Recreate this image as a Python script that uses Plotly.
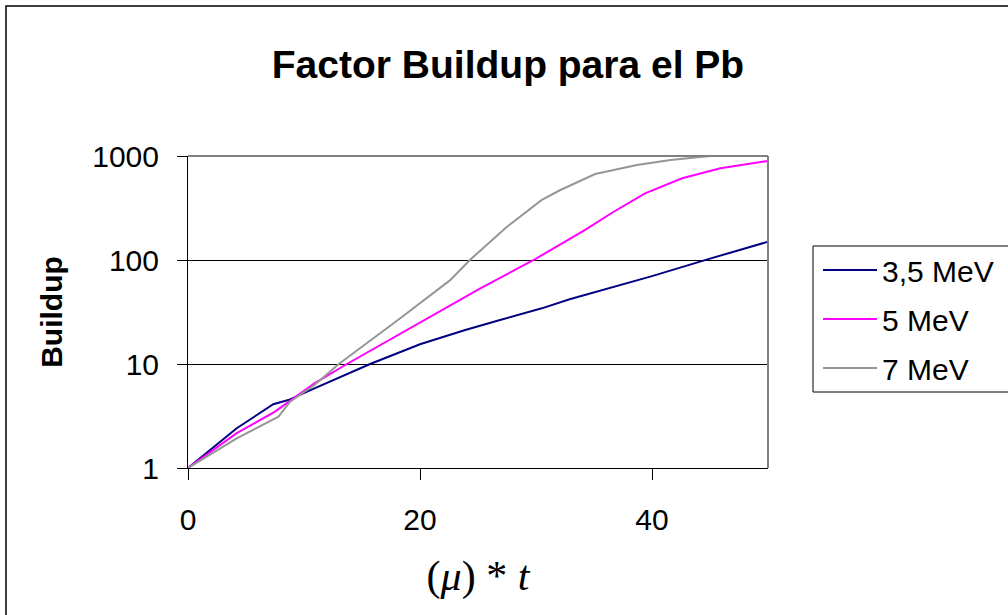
import plotly.graph_objects as go

# ---- data ----
series_names = ["3,5 MeV", "5 MeV", "7 MeV"]

x_35 = [0, 4.2, 7.35, 8.65, 10.9, 15.7, 20, 23.9, 26.9, 30.5, 32.9, 40, 45, 50]
y_35 = [1, 2.41, 4.1, 4.5, 5.84, 10, 15.5, 21.2, 26.5, 34.3, 42, 70, 103, 150]

x_5 = [0, 4.2, 7.5, 10.9, 13.7, 18.9, 25.2, 29.8, 34.2, 36.7, 39.4, 42.6, 45.9, 50]
y_5 = [1, 2.16, 3.48, 6.52, 10, 21.2, 53.4, 100, 194, 291, 438, 611, 762, 896]

x_7 = [0, 4.2, 7.8, 8.8, 10.9, 13.0, 18.3, 22.6, 24.3, 27.5, 30.5, 32.1, 35.1, 38.7, 41.6, 45, 50]
y_7 = [1, 1.93, 3.12, 4.34, 6.28, 10, 27.5, 64, 100, 209, 378, 471, 671, 819, 916, 1000, 1000]

x_ticks = [0, 20, 40]
y_ticks = [1, 10, 100, 1000]
y_tick_labels = ["1", "10", "100", "1000"]

colors = ["#000080", "#FF00FF", "#969696"]

W, H = 1008, 615
L, R, T, B = 188, 240, 156, 147
PW, PH = W - L - R, H - T - B


def px2paper_x(px):
    return (px - L) / PW


def px2paper_y(py):
    return (H - B - py) / PH


fig = go.Figure()
for name, xs, ys, c in zip(series_names, [x_35, x_5, x_7], [y_35, y_5, y_7], colors):
    fig.add_trace(go.Scatter(x=xs, y=ys, mode="lines", name=name, legendgroup=name,
                             line=dict(color=c, width=2)))

font_sans = "Arial, Liberation Sans, sans-serif"

fig.update_layout(
    width=W, height=H,
    margin=dict(l=L, r=R, t=T, b=B, autoexpand=False),
    paper_bgcolor="white", plot_bgcolor="white",
    font=dict(family=font_sans, size=30, color="black"),
    title=dict(text="<b>Factor Buildup para el Pb</b>", font=dict(size=39, family=font_sans),
               x=508 / W, xanchor="center", xref="container",
               y=1 - 64 / H, yanchor="middle", yref="container"),
    showlegend=True,
    legend=dict(x=px2paper_x(818), y=px2paper_y(244), xanchor="left", yanchor="top",
                bgcolor="rgba(0,0,0,0)", borderwidth=0, traceorder="grouped",
                tracegroupgap=7, itemwidth=54, font=dict(size=30, family=font_sans)),
    xaxis=dict(range=[0, 50], tickvals=x_ticks, ticks="outside", ticklen=11, tickcolor="black",
               showline=True, linecolor="black", linewidth=1, showgrid=False, zeroline=False,
               tickfont=dict(size=30), ticklabelstandoff=14,
               title=dict(text="(<i>μ</i>) * <i>t</i>", standoff=25,
                          font=dict(family="Liberation Serif, Times New Roman, serif", size=42))),
    yaxis=dict(type="log", range=[0, 3], tickvals=y_ticks, ticktext=y_tick_labels,
               ticks="outside", ticklen=10, tickcolor="black",
               showline=True, linecolor="black", linewidth=1,
               showgrid=True, gridcolor="black", gridwidth=1, zeroline=False,
               tickfont=dict(size=30), ticklabelstandoff=12,
               title=dict(text="<b>Buildup</b>", standoff=20, font=dict(size=30))),
)

# gray top/right border of plot area
fig.add_shape(type="line", xref="paper", yref="paper", x0=0, x1=1, y0=1, y1=1,
              line=dict(color="#808080", width=2), layer="above")
fig.add_shape(type="line", xref="paper", yref="paper", x0=1, x1=1, y0=0, y1=1,
              line=dict(color="#808080", width=2), layer="above")
# legend box
fig.add_shape(type="rect", xref="paper", yref="paper",
              x0=px2paper_x(813), x1=px2paper_x(1014), y0=px2paper_y(392), y1=px2paper_y(246),
              line=dict(color="black", width=1), layer="above")
# outer chart border
fig.add_shape(type="rect", xref="paper", yref="paper",
              x0=px2paper_x(6), x1=px2paper_x(1016), y0=px2paper_y(622), y1=px2paper_y(6),
              line=dict(color="black", width=1.5), layer="above")

fig.write_html("out.html")
